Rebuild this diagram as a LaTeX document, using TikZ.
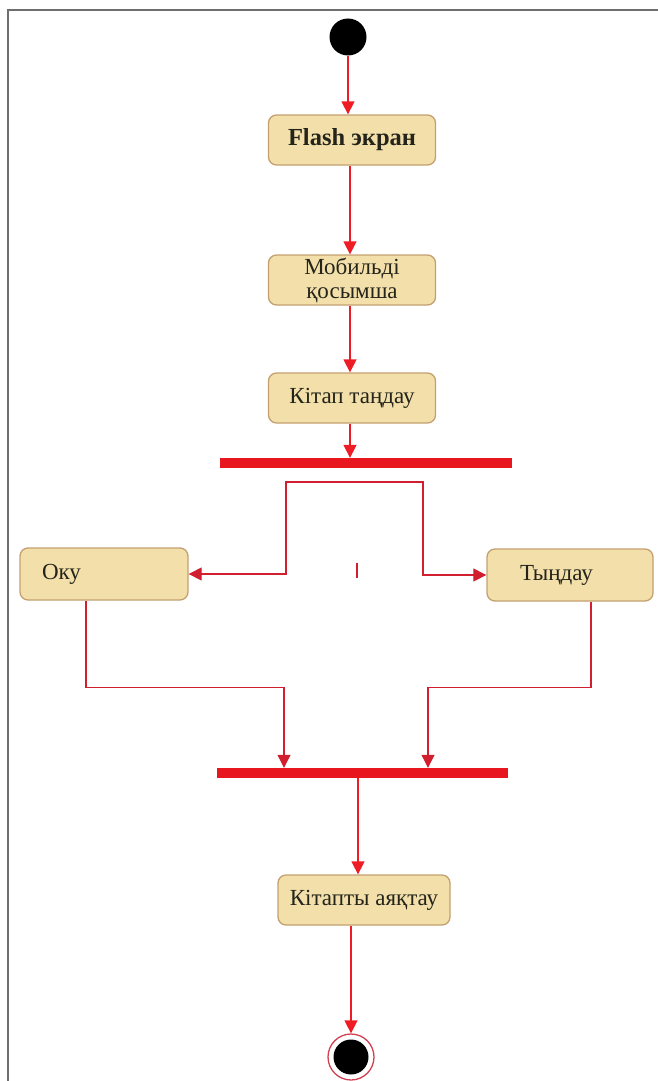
\documentclass[tikz,border=0pt]{standalone}
\usepackage{fontspec}
\setmainfont{Liberation Serif}
\usetikzlibrary{arrows.meta}
\definecolor{boxfill}{HTML}{F2DFAA}
\definecolor{boxdraw}{HTML}{C4A070}
\definecolor{txt}{HTML}{24241A}
\definecolor{flowred}{HTML}{EE1C25}
\definecolor{thinred}{HTML}{D11F2F}
\definecolor{barred}{HTML}{E8161F}
\definecolor{endring}{HTML}{D04050}
\definecolor{framegray}{HTML}{6E6E6E}
\begin{document}
\begin{tikzpicture}[x=1pt,y=-1pt,
  act/.style={draw=boxdraw, line width=1.3pt, fill=boxfill, rounded corners=8pt,
    minimum width=167pt, minimum height=50pt, inner sep=0pt, text=txt,
    font=\fontsize{23}{23}\selectfont, align=center},
  bar/.style={fill=barred, draw=none, minimum height=10pt, inner sep=0pt},
  flow/.style={draw=flowred, line width=1.5pt, -{Triangle[width=13pt,length=13pt]}},
  thinflow/.style={draw=thinred, line width=1.1pt, -{Triangle[width=13pt,length=13pt]}},
  bothflow/.style={draw=thinred, line width=1.1pt, {Triangle[width=13pt,length=13pt]}-{Triangle[width=13pt,length=13pt]}}
]
\useasboundingbox (0,0) rectangle (658,1081);
\draw[framegray, line width=2.5pt] (8,1081) -- (8,10) -- (658,10);

% nodes
\node[circle, fill=black, minimum size=37pt, inner sep=0pt] (start) at (348,37) {};
\node[act, font=\bfseries\fontsize{24.5}{24.5}\selectfont] (flash) at (352,140) {Flash экран};
\node[act, font=\fontsize{23}{24}\selectfont] (mob) at (352,280) {Мобильді\\қосымша};
\node[act] (kit) at (352,398) {Кітап таңдау};
\node[bar, minimum width=292pt] (fork) at (366,463) {};
\node[act, minimum width=168pt, minimum height=52pt, inner xsep=22pt, text width=124pt, align=left] (oku) at (104,574) {Оку};
\node[act, minimum width=166pt, minimum height=52pt, inner xsep=33pt, text width=100pt, align=left] (tyn) at (570,575) {Тыңдау};
\node[bar, minimum width=291pt] (join) at (362,773) {};
\node[act, minimum width=172pt] (fin) at (364,900) {Кітапты аяқтау};
\node[circle, draw=endring, line width=1.3pt, minimum size=46pt, inner sep=0pt] (end) at (351,1057) {};
\node[circle, fill=black, minimum size=35pt, inner sep=0pt] (endcore) at (end) {};

% connectors
\draw[flow] (start.south) -- (start.south |- flash.north);
\draw[flow] ([xshift=-2pt]flash.south) -- ([xshift=-2pt]mob.north);
\draw[flow] ([xshift=-2pt]mob.south) -- ([xshift=-2pt]kit.north);
\draw[flow] ([xshift=-2pt]kit.south) -- ([xshift=-2pt]kit.south |- fork.north);

\coordinate (fl) at (286,482);
\coordinate (fr) at (423,482);
\draw[bothflow] (oku.east) -| (fl) -- (fr) |- (tyn.west);
\coordinate (tickA) at (357,563);
\coordinate (tickB) at (357,578);
\draw[thinred, line width=2pt] (tickA) -- (tickB);

\draw[thinflow] ([xshift=-18pt]oku.south) -- ++(0,87) -| ([xshift=-78pt]join.north);
\draw[thinflow] ([xshift=21pt]tyn.south) -- ++(0,86) -| ([xshift=66pt]join.north);
\draw[flow] ([xshift=-4pt]join.south) -- ([xshift=-4pt]join.south |- fin.north);
\draw[flow] (end.north |- fin.south) -- (end.north);
\end{tikzpicture}
\end{document}
